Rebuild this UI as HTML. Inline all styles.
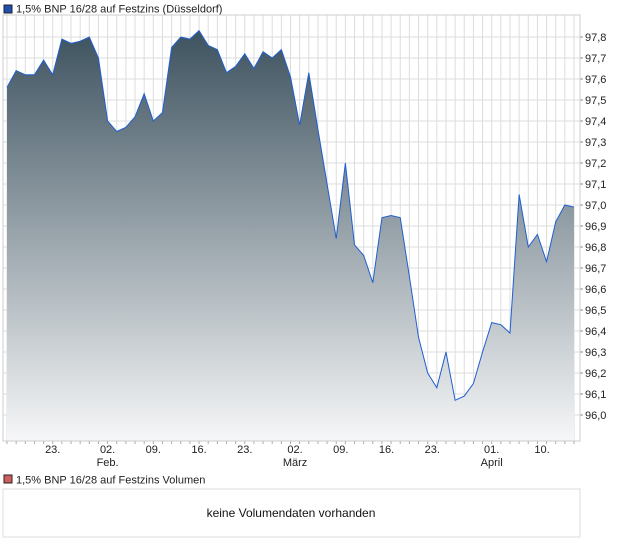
<!DOCTYPE html>
<html><head><meta charset="utf-8"><style>
body{margin:0;background:#fff;font-family:"Liberation Sans",Arial,sans-serif;}
svg text{font-family:"Liberation Sans",Arial,sans-serif;}
</style></head><body>
<svg id="c" width="620" height="546" xmlns="http://www.w3.org/2000/svg">
<defs><linearGradient id="g" x1="0" y1="0" x2="0" y2="1">
<stop offset="0" stop-color="#3d525f"/><stop offset="1" stop-color="#f6f7f8"/></linearGradient></defs>
<rect x="4" y="5" width="8" height="8" fill="#1f4fb0" stroke="#222" stroke-width="1"/>
<text x="16" y="12.5" font-size="11" fill="#222">1,5% BNP 16/28 auf Festzins (Düsseldorf)</text>
<g id="grid"></g><g id="series"></g><g id="axes"></g>
<rect x="3" y="15" width="577" height="426" fill="none" stroke="#ccc"/>
<rect x="4" y="475" width="8" height="8" fill="#d06060" stroke="#222" stroke-width="1"/>
<text x="16" y="483.5" font-size="11" fill="#222">1,5% BNP 16/28 auf Festzins Volumen</text>
<rect x="3" y="489" width="577" height="48" fill="#fff" stroke="#ddd"/>
<text x="291" y="517" font-size="12" fill="#111" text-anchor="middle">keine Volumendaten vorhanden</text>
</svg>
<script>
const values=[97.56,97.64,97.62,97.62,97.69,97.62,97.79,97.77,97.78,97.80,97.70,97.40,97.35,97.37,97.42,97.53,97.40,97.44,97.75,97.80,97.79,97.83,97.76,97.74,97.63,97.66,97.72,97.65,97.73,97.70,97.74,97.61,97.38,97.63,97.36,97.10,96.84,97.20,96.81,96.76,96.63,96.94,96.95,96.94,96.66,96.37,96.20,96.13,96.30,96.07,96.09,96.15,96.30,96.44,96.43,96.39,97.05,96.80,96.86,96.73,96.92,97.00,96.99];
const yTicks=[96.0,96.1,96.2,96.3,96.4,96.5,96.6,96.7,96.8,96.9,97.0,97.1,97.2,97.3,97.4,97.5,97.6,97.7,97.8];
const xTickIdx=[5,11,16,21,26,31.5,36.5,41.5,46.5,53,58.5];
const xTickLabels=["23.","02.","09.","16.","23.","02.","09.","16.","23.","01.","10."];
const monthLabels=["","Feb.","","","","März","","","","April",""];
const NS="http://www.w3.org/2000/svg";
const X=i=>7+i*(567/(values.length-1));
const Y=v=>37+(97.8-v)*210;
function el(t,a,p){const e=document.createElementNS(NS,t);for(const k in a)e.setAttribute(k,a[k]);document.getElementById(p).appendChild(e);return e;}
for(let i=0;X(i)<580;i++){const l=el('line',{x1:X(i),x2:X(i),y1:15,y2:441,stroke:'#ddd'},'grid');


const t=el('line',{x1:X(i),x2:X(i),y1:441,y2:444,stroke:'#aaa'},'axes');

}
yTicks.forEach(v=>{const y=Y(v);const l=el('line',{x1:3,x2:580,y1:y,y2:y,stroke:'#ddd'},'grid');


const tk=el('line',{x1:580,x2:583,y1:y,y2:y,stroke:'#888'},'axes');


const t=el('text',{x:585,y:y+4,'font-size':11,fill:'#222'},'axes');t.textContent=v.toFixed(1).replace('.',',');

});
let d='M'+X(0)+','+Y(values[0]);values.forEach((v,i)=>{if(i)d+=' L'+X(i)+','+Y(v);});
const area=el('path',{d:d+' L'+X(values.length-1)+',441 L'+X(0)+',441 Z',fill:'url(#g)'},'series');


const line=el('path',{d:d,fill:'none',stroke:'#1f5fd0','stroke-width':1},'series');


xTickIdx.forEach((ix,k)=>{const t=el('text',{x:X(ix),y:453,'font-size':11,fill:'#222','text-anchor':'middle'},'axes');t.textContent=xTickLabels[k];


if(monthLabels[k]){const m=el('text',{x:X(ix),y:466,'font-size':11,fill:'#222','text-anchor':'middle'},'axes');m.textContent=monthLabels[k];

}});
</script>
</body></html>
